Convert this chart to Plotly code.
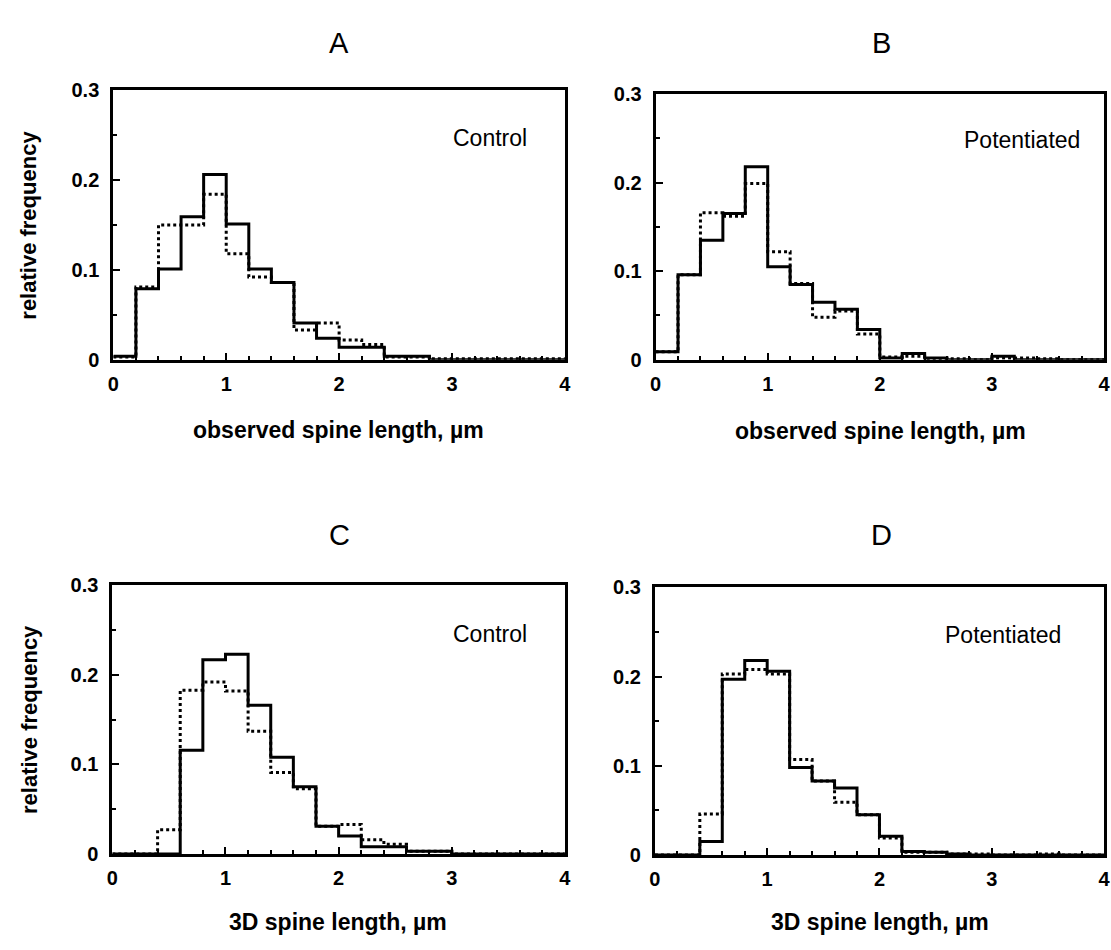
import plotly.graph_objects as go

# ---------------- data ----------------
bin_edges = [0.0, 0.2, 0.4, 0.6, 0.8, 1.0, 1.2, 1.4, 1.6, 1.8, 2.0,
             2.2, 2.4, 2.6, 2.8, 3.0, 3.2, 3.4, 3.6, 3.8, 4.0]

# A: observed spine length, Control
a_solid = [0.004, 0.079, 0.101, 0.159, 0.206, 0.151, 0.101, 0.086, 0.041, 0.024,
           0.014, 0.014, 0.004, 0.004, 0.0, 0.0, 0.0, 0.0, 0.0, 0.0]
a_dotted = [0.003, 0.081, 0.150, 0.150, 0.184, 0.118, 0.092, 0.086, 0.033, 0.041,
            0.022, 0.017, 0.003, 0.003, 0.001, 0.001, 0.001, 0.001, 0.001, 0.001]

# B: observed spine length, Potentiated
b_solid = [0.009, 0.096, 0.135, 0.165, 0.218, 0.105, 0.085, 0.065, 0.057, 0.034,
           0.002, 0.007, 0.002, 0.0, 0.0, 0.004, 0.0, 0.0, 0.0, 0.0]
b_dotted = [0.009, 0.096, 0.166, 0.162, 0.199, 0.122, 0.086, 0.048, 0.055, 0.029,
            0.003, 0.004, 0.001, 0.001, 0.0, 0.002, 0.002, 0.001, 0.0, 0.0]

# C: 3D spine length, Control
c_solid = [0.0, 0.0, 0.0, 0.116, 0.217, 0.223, 0.166, 0.108, 0.075, 0.031,
           0.020, 0.008, 0.008, 0.003, 0.003, 0.0, 0.0, 0.0, 0.0, 0.0]
c_dotted = [0.0, 0.0, 0.027, 0.183, 0.192, 0.182, 0.137, 0.091, 0.073, 0.031,
            0.033, 0.016, 0.011, 0.003, 0.003, 0.0, 0.0, 0.0, 0.0, 0.0]

# D: 3D spine length, Potentiated
d_solid = [0.0, 0.0, 0.015, 0.197, 0.218, 0.206, 0.098, 0.083, 0.075, 0.045,
           0.021, 0.004, 0.003, 0.001, 0.0, 0.0, 0.0, 0.0, 0.0, 0.0]
d_dotted = [0.0, 0.0, 0.046, 0.203, 0.208, 0.203, 0.107, 0.083, 0.059, 0.045,
            0.019, 0.003, 0.003, 0.001, 0.001, 0.0, 0.0, 0.001, 0.0, 0.0]

panel_letters = ["A", "B", "C", "D"]
condition_labels = ["Control", "Potentiated", "Control", "Potentiated"]
x_titles = ["observed spine length, \u00b5m", "observed spine length, \u00b5m",
            "3D spine length, \u00b5m", "3D spine length, \u00b5m"]
y_title = "relative frequency"
x_tickvals = [0, 1, 2, 3, 4]
y_tickvals = [0, 0.1, 0.2, 0.3]
y_ticktext = ["0", "0.1", "0.2", "0.3"]

# ---------------- layout helpers ----------------
W, H = 1111, 950
FONT = "Liberation Sans, Arial, Helvetica, sans-serif"


def px_x(p):
    return p / W


def px_y(p):
    return 1 - p / H


# plot-area pixel boxes (left, right, top, bottom)
boxes = [
    (108.5, 565.0, 81.0, 357.0),
    (656.7, 1110.0, 85.0, 357.0),
    (107.5, 565.0, 588.0, 863.0),
    (656.0, 1110.0, 590.0, 864.0),
]

fig = go.Figure()

series = [(a_solid, a_dotted), (b_solid, b_dotted), (c_solid, c_dotted), (d_solid, d_dotted)]

for i, (solid, dotted) in enumerate(series):
    xa = "x" if i == 0 else f"x{i+1}"
    ya = "y" if i == 0 else f"y{i+1}"
    for vals, dash, w in ((dotted, "dot", 3), (solid, "solid", 3)):
        fig.add_trace(go.Scatter(
            x=bin_edges, y=list(vals) + [vals[-1]],
            mode="lines", line=dict(shape="hv", color="black", width=w, dash=dash),
            xaxis=xa, yaxis=ya, showlegend=False, hoverinfo="skip"))

    l, r, t, b = boxes[i]
    xkey = "xaxis" if i == 0 else f"xaxis{i+1}"
    ykey = "yaxis" if i == 0 else f"yaxis{i+1}"
    fig.layout[xkey] = dict(
        domain=[px_x(l), px_x(r)], anchor=ya, range=[0, 4],
        tickvals=x_tickvals, ticks="inside", ticklen=7, tickwidth=2,
        tickcolor="black", showline=True, linecolor="black", linewidth=3,
        mirror=True, showgrid=False, zeroline=False,
        minor=dict(ticks="inside", dtick=0.2, ticklen=4, tickwidth=2, tickcolor="black", showgrid=False),
        tickfont=dict(family=FONT, size=20, color="black", weight="bold"),
        ticklabelstandoff=4,
    )
    fig.layout[ykey] = dict(
        domain=[px_y(b), px_y(t)], anchor=xa, range=[0, 0.3],
        tickvals=y_tickvals, ticktext=y_ticktext, ticks="inside", ticklen=7, tickwidth=2,
        tickcolor="black", showline=True, linecolor="black", linewidth=3,
        mirror=True, showgrid=False, zeroline=False,
        minor=dict(ticks="inside", dtick=0.05, ticklen=4, tickwidth=2, tickcolor="black", showgrid=False),
        tickfont=dict(family=FONT, size=20, color="black", weight="bold"),
        ticklabelstandoff=7,
    )

annotations = []
# panel letters
letter_pos = [(337, 33), (885, 33), (337, 536), (885, 536)]
for letter, (x, y) in zip(panel_letters, letter_pos):
    annotations.append(dict(text=letter, x=px_x(x), y=px_y(y), xref="paper", yref="paper",
                            xanchor="center", yanchor="middle", showarrow=False,
                            font=dict(family=FONT, size=29, color="black")))
# condition labels
cond_pos = [(489, 130), (1027, 132), (489, 638), (1008, 639)]
for txt, (x, y) in zip(condition_labels, cond_pos):
    annotations.append(dict(text=txt, x=px_x(x), y=px_y(y), xref="paper", yref="paper",
                            xanchor="center", yanchor="middle", showarrow=False,
                            font=dict(family=FONT, size=23, color="black")))
# x titles
xt_pos = [(336, 429), (884, 430), (336, 933), (884, 933)]
for txt, (x, y) in zip(x_titles, xt_pos):
    annotations.append(dict(text=txt, x=px_x(x), y=px_y(y), xref="paper", yref="paper",
                            xanchor="center", yanchor="middle", showarrow=False,
                            font=dict(family=FONT, size=23, color="black", weight="bold")))
# y titles
for y in (219, 725):
    annotations.append(dict(text=y_title, x=px_x(23), y=px_y(y), xref="paper", yref="paper",
                            xanchor="center", yanchor="middle", showarrow=False, textangle=-90,
                            font=dict(family=FONT, size=22, color="black", weight="bold")))

fig.update_layout(
    width=W, height=H, autosize=False,
    margin=dict(l=0, r=0, t=0, b=0),
    paper_bgcolor="white", plot_bgcolor="white",
    annotations=annotations,
)

fig.write_html("out.html", config={"displayModeBar": False},
               post_script="document.body.style.margin='0';document.body.style.overflow='hidden';")
